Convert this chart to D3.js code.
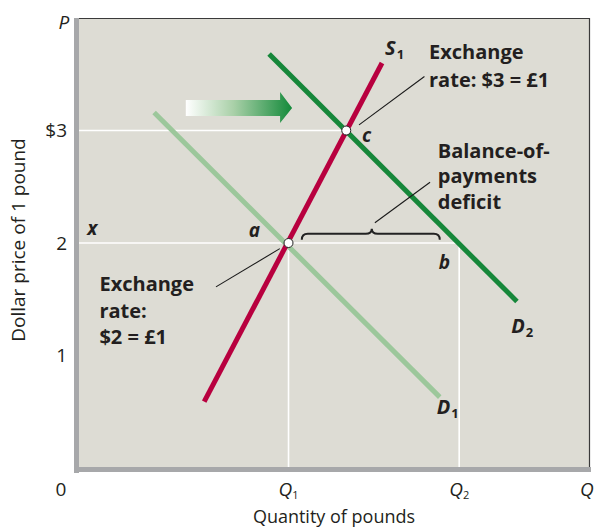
<!DOCTYPE html>
<html>
<head>
<meta charset="utf-8">
<script src="https://cdn.jsdelivr.net/npm/d3@7/dist/d3.min.js"></script>
<style>
  html, body { margin: 0; padding: 0; background: #fff; }
  svg { display: block; }
  text { font-family: "Open Sans", Lato, sans-serif; fill: #231f20; }
</style>
</head>
<body>
<svg id="chart" width="595" height="530"></svg>
<script>
// ---------- data ----------
const priceDomain = [0, 4];
const quantityDomain = [0, 100];
const priceTicks = [1, 2, 3];
const priceTickLabels = ["1", "2", "$3"];
const Q1 = 41;
const Q2 = 74.4;
const quantityTicks = [0, Q1, Q2, 100];
const quantityTickLabels = [["0", ""], ["Q", "1"], ["Q", "2"], ["Q", ""]];
// curves: [quantity, price]
const supplyS1 = [[24.5, 0.59], [59.3, 3.6]];
const demandD1 = [[14.7, 3.16], [70.6, 0.63]];
const demandD2 = [[37.2, 3.68], [85.7, 1.48]];
// equilibrium points
const pointA = [Q1, 2];
const pointC = [52.3, 3];
// annotation anchors (data units)
const braceRange = [43.6, 70.6];
const bracePrice = 2.1;

// ---------- setup ----------
const svg = d3.select("#chart");
const x = d3.scaleLinear().domain(quantityDomain).range([79, 590]);
const y = d3.scaleLinear().domain(priceDomain).range([468, 18]);

const cRed = "#b8003f", cGreen = "#16873a", cLight = "#9cc79b";

// plot background
svg.append("rect").attr("x", x(0)).attr("y", y(4)).attr("width", x(100) - x(0)).attr("height", y(0) - y(4))
  .attr("fill", "#dddcd4");
// top and right border
svg.append("path").attr("d", `M${x(0)},${y(4)+0.5}H${x(100)-0.5}V${y(0)}`).attr("fill", "none").attr("stroke", "#3a3a3a").attr("stroke-width", 1.2);
// left & bottom gray bars
svg.append("rect").attr("x", x(0) - 5).attr("y", y(4)).attr("width", 5).attr("height", y(0) - y(4) + 5).attr("fill", "#a7a8aa");
svg.append("rect").attr("x", x(0) - 5).attr("y", y(0) - 1).attr("width", x(100) - x(0) + 6).attr("height", 5).attr("fill", "#a7a8aa");

// white guide lines
const guide = svg.append("g").attr("stroke", "#fff").attr("stroke-width", 1.6);
guide.append("line").attr("x1", x(0)).attr("x2", x(pointC[0])).attr("y1", y(3)).attr("y2", y(3));
guide.append("line").attr("x1", x(0)).attr("x2", x(Q2)).attr("y1", y(2)).attr("y2", y(2));
guide.append("line").attr("x1", x(Q1)).attr("x2", x(Q1)).attr("y1", y(2)).attr("y2", y(0) - 1);
guide.append("line").attr("x1", x(Q2)).attr("x2", x(Q2)).attr("y1", y(2)).attr("y2", y(0) - 1);

// shift arrow with gradient
const defs = svg.append("defs");
const grad = defs.append("linearGradient").attr("id", "arrowGrad").attr("x1", "0").attr("x2", "1").attr("y1", "0").attr("y2", "0");
grad.append("stop").attr("offset", "0").attr("stop-color", "#ffffff");
grad.append("stop").attr("offset", "0.45").attr("stop-color", "#a9d0a8");
grad.append("stop").attr("offset", "1").attr("stop-color", "#138a3a");
const ax0 = x(20.9), ax1 = x(41.7), ay = y(3.2);
svg.append("path")
  .attr("d", `M${ax0},${ay-8}H${ax1-12}V${ay-16}L${ax1},${ay}L${ax1-12},${ay+15}V${ay+8}H${ax0}Z`)
  .attr("fill", "url(#arrowGrad)");

// curves
const line = d3.line().x(d => x(d[0])).y(d => y(d[1]));
svg.append("path").datum(demandD1).attr("d", line).attr("stroke", cLight).attr("stroke-width", 5).attr("fill", "none");
svg.append("path").datum(demandD2).attr("d", line).attr("stroke", cGreen).attr("stroke-width", 5).attr("fill", "none");
svg.append("path").datum(supplyS1).attr("d", line).attr("stroke", cRed).attr("stroke-width", 5).attr("fill", "none");

// leader lines
const leaders = [
  [[54.8, 3.05], [67.6, 3.48]],
  [[57.9, 2.18], [68.7, 2.54]],
  [[26.8, 1.61], [39.3, 1.95]]
];
svg.append("g").selectAll("path").data(leaders).join("path")
  .attr("d", line).attr("stroke", "#1a1a1a").attr("stroke-width", 1.1).attr("fill", "none");

// brace
{
  const bx0 = x(braceRange[0]), bx1 = x(braceRange[1]), by = y(bracePrice) + 2, mid = (bx0 + bx1) / 2 + 1;
  const d = `M${bx0},${by+6} Q${bx0},${by} ${bx0+6},${by} H${mid-6} Q${mid},${by} ${mid},${by-5} Q${mid},${by} ${mid+6},${by} H${bx1-6} Q${bx1},${by} ${bx1},${by+6}`;
  svg.append("path").attr("d", d).attr("stroke", "#222").attr("stroke-width", 2).attr("fill", "none");
}

// equilibrium points
svg.append("g").selectAll("circle").data([pointA, pointC]).join("circle")
  .attr("cx", d => x(d[0])).attr("cy", d => y(d[1])).attr("r", 4.5)
  .attr("fill", "#fff").attr("stroke", "#222").attr("stroke-width", 1);

// y tick labels
svg.append("g").selectAll("text").data(priceTicks).join("text")
  .attr("x", 67).attr("y", d => y(d)).attr("dy", "0.36em").attr("text-anchor", "end")
  .attr("font-size", 19).text((d, i) => priceTickLabels[i]);

// x tick labels
const xt = svg.append("g").selectAll("text").data(quantityTicks).join("text")
  .attr("x", (d, i) => i === 0 ? 61 : (i === 3 ? 580 : x(d))).attr("y", 496).attr("text-anchor", (d, i) => i === 3 ? "start" : "middle")
  .attr("font-size", 19);
xt.append("tspan").attr("font-style", (d, i) => i === 0 ? "normal" : "italic").text((d, i) => quantityTickLabels[i][0]);
xt.append("tspan").attr("font-size", 11).attr("dy", 3).text((d, i) => quantityTickLabels[i][1]);

// axis titles
svg.append("text").attr("x", 64).attr("y", 29).attr("text-anchor", "middle").attr("font-style", "italic").attr("font-size", 19).text("P");
svg.append("text").attr("x", 334).attr("y", 523).attr("text-anchor", "middle").attr("font-size", 18).text("Quantity of pounds");
svg.append("text").attr("transform", "translate(25,240) rotate(-90)").attr("text-anchor", "middle").attr("font-size", 19).text("Dollar price of 1 pound");

// curve labels
function sub(main, s, px, py) {
  const t = svg.append("text").attr("x", px).attr("y", py).attr("font-size", 20).attr("font-weight", 700);
  t.append("tspan").attr("font-style", "italic").text(main);
  t.append("tspan").attr("font-size", 13).attr("dy", 4).attr("dx", 1).text(s);
  return t;
}
sub("S", "1", x(59.5) + 2, y(3.6) - 8);
sub("D", "2", x(84.6), y(1.2));
sub("D", "1", x(70.0), y(0.48));

// point letters
const letter = (t, q, p) => svg.append("text").attr("x", x(q)).attr("y", y(p)).attr("font-size", 19).attr("font-weight", 700).attr("font-style", "italic").text(t);
letter("x", 1.6, 2.07);
letter("a", 33.2, 2.05);
letter("c", 55.4, 2.9);
letter("b", 70.4, 1.77);

// annotations
function block(lines, q, p, lh) {
  const t = svg.append("text").attr("x", x(q)).attr("y", y(p)).attr("font-size", 20).attr("font-weight", 700);
  lines.forEach((l, i) => t.append("tspan").attr("x", x(q)).attr("dy", i ? lh : 0).text(l));
}
block(["Exchange", "rate: $3 = £1"], 68.5, 3.64, 28);
block(["Balance-of-", "payments", "deficit"], 70.2, 2.76, 25.5);
block(["Exchange", "rate:", "$2 = £1"], 4.0, 1.57, 26.5);
</script>
</body>
</html>
